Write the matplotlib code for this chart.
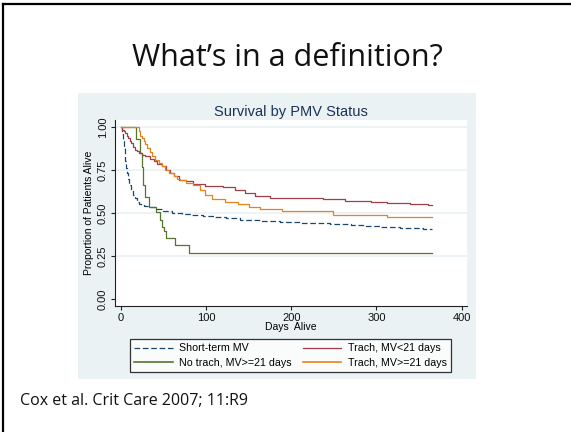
import matplotlib
matplotlib.use("Agg")
import matplotlib.pyplot as plt
from matplotlib.lines import Line2D

# Kaplan-Meier curves (days, proportion alive)
short_t = [0, 1.5, 2.5, 3.5, 4.5, 5.5, 6.5, 7.5, 8.5, 10, 12, 14, 16.5, 19, 22, 27, 33, 41, 50, 60,
           72, 84, 97, 110, 124, 140, 163, 187, 210, 245, 270, 287, 304, 328, 355, 365]
short_s = [1.0, 0.96, 0.92, 0.88, 0.84, 0.80, 0.76, 0.73, 0.70, 0.665, 0.635, 0.607, 0.585, 0.564, 0.55,
           0.539, 0.532, 0.525, 0.513, 0.50, 0.494, 0.487, 0.483, 0.477, 0.469, 0.462, 0.453, 0.446,
           0.442, 0.434, 0.429, 0.424, 0.417, 0.411, 0.409, 0.409]

trach_lt21_t = [0, 2, 4, 5.5, 7, 9, 11, 12.5, 15, 17, 19, 21, 25, 29, 34, 38.6, 43, 48.4, 53, 58, 63,
                68, 76, 85, 99, 120, 134, 146, 157.5, 175, 237, 263, 294, 312, 339, 361, 365]
trach_lt21_s = [1.0, 0.985, 0.975, 0.965, 0.95, 0.936, 0.92, 0.907, 0.885, 0.868, 0.858, 0.849, 0.84,
                0.83, 0.815, 0.80, 0.785, 0.771, 0.752, 0.733, 0.713, 0.694, 0.688, 0.669, 0.657, 0.649,
                0.634, 0.618, 0.601, 0.589, 0.580, 0.572, 0.564, 0.556, 0.552, 0.547, 0.547]

notrach_t = [0, 18.5, 22.5, 24.5, 26, 28.5, 33.5, 41.5, 45.5, 48, 50.5, 53.5, 64, 80.5, 365]
notrach_s = [1.0, 0.93, 0.85, 0.769, 0.663, 0.595, 0.537, 0.504, 0.459, 0.42, 0.395, 0.353, 0.314,
             0.269, 0.269]

trach_ge21_t = [0, 21.9, 23, 25, 27, 29, 31, 34, 36.7, 40, 44.6, 48, 52.4, 57, 62, 66, 70, 77, 85, 93,
                99, 106.7, 122, 138, 150, 163, 189, 248.7, 312.7, 365]
trach_ge21_s = [1.0, 0.975, 0.95, 0.935, 0.92, 0.90, 0.878, 0.855, 0.83, 0.81, 0.791, 0.772, 0.752,
                0.733, 0.713, 0.70, 0.69, 0.675, 0.663, 0.634, 0.605, 0.58, 0.566, 0.552, 0.537, 0.523,
                0.513, 0.49, 0.477, 0.477]

labels = ["Short-term MV", "No trach, MV>=21 days", "Trach, MV<21 days", "Trach, MV>=21 days"]
yticks = [0, 0.25, 0.5, 0.75, 1.0]
xticks = [0, 100, 200, 300, 400]

W, H = 571, 432
fig = plt.figure(figsize=(W / 100, H / 100), dpi=100)
fig.patch.set_facecolor("white")

# slide border (left / top only visible)
fig.add_artist(Line2D([2.5 / W, 2.5 / W], [0, 1 - 3.5 / H], color="black", lw=1.6))
fig.add_artist(Line2D([2.5 / W, 1], [1 - 3.5 / H, 1 - 3.5 / H], color="black", lw=1.6))

fig.text(287.5 / W, 1 - 58 / H, "What\u2019s in a definition?", ha="center", va="center",
         fontsize=22, family="Open Sans", color="#111111")
fig.text(20 / W, 1 - 401 / H, "Cox et al. Crit Care 2007; 11:R9", ha="left", va="center",
         fontsize=11.5, family="Open Sans", color="#111111")

# stata graph background
bg = fig.add_axes([78 / W, 1 - 379 / H, 398 / W, 286 / H])
bg.set_facecolor("#eaf2f3")
bg.set_xticks([])
bg.set_yticks([])
for s in bg.spines.values():
    s.set_visible(False)

ax = fig.add_axes([115 / W, 1 - 306 / H, 352 / W, 186 / H])
ax.set_facecolor("white")
for y in yticks[1:]:
    ax.axhline(y, color="#eaf2f3", lw=1.2, zorder=1)

ax.plot(short_t, short_s, drawstyle="steps-post", color="#1a476f", lw=0.9, dashes=(4.5, 2.2), zorder=3)
ax.plot(notrach_t, notrach_s, drawstyle="steps-post", color="#55752f", lw=0.9, zorder=3)
ax.plot(trach_lt21_t, trach_lt21_s, drawstyle="steps-post", color="#a03f48", lw=0.9, zorder=3)
ax.plot(trach_ge21_t, trach_ge21_s, drawstyle="steps-post", color="#e8821a", lw=0.9, zorder=3)

ax.set_xlim(-6.7, 406.2)
ax.set_ylim(-0.0407, 1.0407)
ax.set_xticks(xticks)
ax.set_yticks(yticks)
ax.set_yticklabels(["%.2f" % v for v in yticks], rotation=90, va="center")
ax.spines["top"].set_visible(False)
ax.spines["right"].set_visible(False)
for s in ["left", "bottom"]:
    ax.spines[s].set_color("#222222")
    ax.spines[s].set_linewidth(0.8)
ax.tick_params(direction="out", length=3, width=0.8, color="#222222", labelsize=8,
               labelcolor="#111111", pad=2)
for lab in ax.get_xticklabels() + ax.get_yticklabels():
    lab.set_family("Liberation Sans")
ax.set_xlabel("Days  Alive", fontsize=7.5, family="Liberation Sans", labelpad=-1)
ax.set_ylabel("Proportion of Patients Alive", fontsize=7.5, family="Liberation Sans", labelpad=3)
ax.set_title("Survival by PMV Status", fontsize=10.5, family="Liberation Sans", color="#1e3256", pad=3)

handles = [Line2D([], [], color="#1a476f", lw=0.9, dashes=(4.5, 2.2)),
           Line2D([], [], color="#55752f", lw=1.2),
           Line2D([], [], color="#a03f48", lw=0.9),
           Line2D([], [], color="#e8821a", lw=1.2)]
leg = fig.legend(handles, labels, ncol=2, loc="center", bbox_to_anchor=(290.5 / W, 1 - 355.5 / H),
                 prop={"family": "Liberation Sans", "size": 7.7}, frameon=True, fancybox=False,
                 edgecolor="black", handlelength=3.6, handletextpad=0.6, columnspacing=1.0,
                 labelspacing=0.4, borderpad=0.4)
leg.get_frame().set_linewidth(0.9)

fig.savefig("out.png", dpi=100)
